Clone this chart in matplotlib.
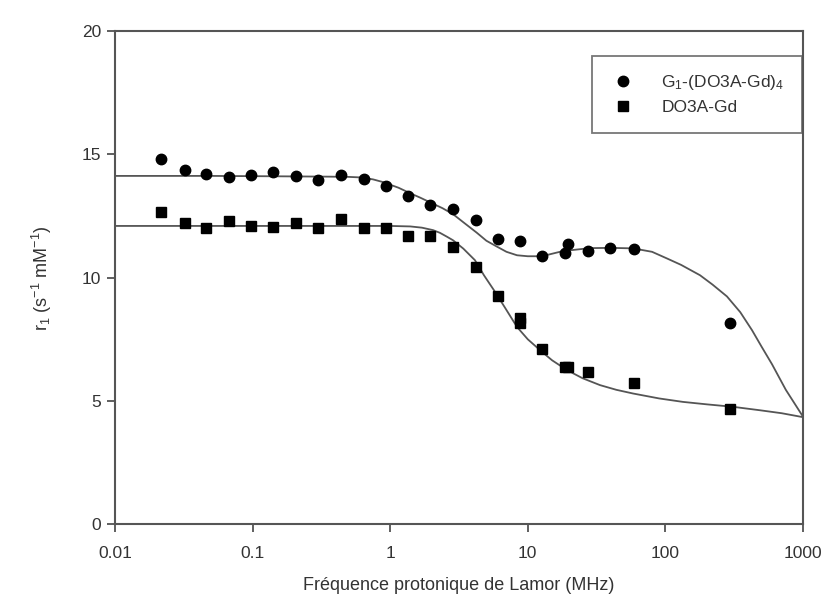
import numpy as np
import matplotlib
matplotlib.use("Agg")
import matplotlib.pyplot as plt

plt.rcParams['font.family'] = ['Liberation Sans', 'DejaVu Sans']
plt.rcParams['mathtext.fontset'] = 'custom'
plt.rcParams['mathtext.rm'] = 'Liberation Sans'
plt.rcParams['mathtext.it'] = 'Liberation Sans'

# measured points, G1-(DO3A-Gd)4
freq_g1 = [0.0216, 0.0321, 0.0461, 0.0677, 0.0978, 0.1414, 0.2078, 0.301, 0.437,
           0.640, 0.927, 1.351, 1.963, 2.870, 4.17, 6.10, 8.82, 12.73, 18.64,
           19.70, 27.2, 39.6, 59.1, 296]
r1_g1 = [14.82, 14.39, 14.21, 14.09, 14.15, 14.29, 14.11, 13.98, 14.16,
         14.02, 13.71, 13.32, 12.97, 12.80, 12.36, 11.59, 11.49, 10.87, 11.01,
         11.35, 11.08, 11.20, 11.18, 8.18]

# measured points, DO3A-Gd
freq_do3a = [0.0216, 0.0321, 0.0461, 0.0677, 0.0978, 0.1414, 0.2078, 0.301, 0.437,
             0.640, 0.927, 1.351, 1.963, 2.870, 4.17, 6.10, 8.82, 8.82, 12.73,
             18.64, 19.70, 27.2, 59.1, 296]
r1_do3a = [12.68, 12.22, 12.03, 12.32, 12.10, 12.06, 12.22, 12.03, 12.39,
           12.03, 12.03, 11.70, 11.68, 11.25, 10.45, 9.26, 8.36, 8.18, 7.10,
           6.38, 6.36, 6.18, 5.71, 4.67]

# fitted curves
fit_freq_g1 = [0.01, 0.05, 0.1, 0.2, 0.365, 0.5, 0.603, 0.75, 0.886, 1.15, 1.393, 1.65,
               1.946, 2.4, 2.86, 3.4, 4.27, 5.0, 5.97, 7.0, 8.35, 10.0, 11.67, 14.0,
               18.0, 28.3, 40.0, 58.2, 80.0, 102.7, 130, 178.4, 220, 280, 350, 426,
               500, 595, 750, 1000]
fit_r1_g1 = [14.13, 14.13, 14.12, 14.11, 14.10, 14.09, 14.07, 13.99, 13.88, 13.65, 13.43, 13.25,
             13.06, 12.82, 12.58, 12.25, 11.82, 11.50, 11.26, 11.05, 10.91, 10.87, 10.87, 10.93,
             11.08, 11.20, 11.21, 11.19, 11.05, 10.78, 10.52, 10.10, 9.72, 9.24, 8.60, 7.87,
             7.20, 6.49, 5.45, 4.36]

fit_freq_do3a = [0.01, 0.05, 0.1, 0.3, 0.6, 1.0, 1.4, 1.7, 2.05, 2.3, 2.59, 2.86, 3.4,
                 4.13, 4.8, 5.68, 6.8, 8.35, 10.0, 12.27, 15.0, 19.27, 25.0, 33.5, 44.0,
                 58.2, 90.0, 134, 200, 310, 487, 700, 1000]
fit_r1_do3a = [12.10, 12.10, 12.10, 12.10, 12.10, 12.10, 12.08, 12.03, 11.93, 11.82, 11.66, 11.52, 11.18,
               10.71, 10.10, 9.49, 8.80, 8.00, 7.50, 7.06, 6.65, 6.25, 5.92, 5.64, 5.45,
               5.30, 5.10, 4.96, 4.86, 4.76, 4.62, 4.50, 4.34]

xticks = [0.01, 0.1, 1, 10, 100, 1000]
xtick_labels = ['0.01', '0.1', '1', '10', '100', '1000']
yticks = [0, 5, 10, 15, 20]

fig = plt.figure(figsize=(8.33, 6.13), dpi=100)
ax = fig.add_axes([0.138, 0.145, 0.826, 0.804])

line_col = '#555555'
ax.plot(fit_freq_g1, fit_r1_g1, color=line_col, lw=1.3, zorder=2)
ax.plot(fit_freq_do3a, fit_r1_do3a, color=line_col, lw=1.3, zorder=2)
ax.plot(freq_g1, r1_g1, 'o', color='black', ms=7.5, ls='none', zorder=3,
        label='G$_1$-(DO3A-Gd)$_4$')
ax.plot(freq_do3a, r1_do3a, 's', color='black', ms=7.5, ls='none', zorder=3,
        label='DO3A-Gd')

ax.set_xscale('log')
ax.set_xlim(0.01, 1000)
ax.set_ylim(0, 20)
ax.set_xticks(xticks)
ax.set_xticklabels(xtick_labels)
ax.minorticks_off()
ax.set_yticks(yticks)
ax.tick_params(direction='out', length=6, width=1.2, color='#444444',
               labelsize=12.5, labelcolor='#333333')
ax.tick_params(axis='x', pad=10)
ax.tick_params(axis='y', pad=4)
for s in ax.spines.values():
    s.set_color('#555555')
    s.set_linewidth(1.5)

ax.set_xlabel('Fréquence protonique de Lamor (MHz)', fontsize=13, color='#333333', labelpad=11)
ax.set_ylabel('r$_1$ (s$^{-1}$ mM$^{-1}$)', fontsize=13, color='#333333', labelpad=20)

leg = ax.legend(loc='upper left', bbox_to_anchor=(0.693, 0.95), frameon=True,
                fancybox=False, fontsize=12.5, handletextpad=1.4, borderpad=1.0,
                labelspacing=0.45, handlelength=1.6, borderaxespad=0)
leg.get_frame().set_edgecolor('#555555')
leg.get_frame().set_linewidth(1.3)
for t in leg.get_texts():
    t.set_color('#333333')

fig.savefig('out.png', dpi=100)
